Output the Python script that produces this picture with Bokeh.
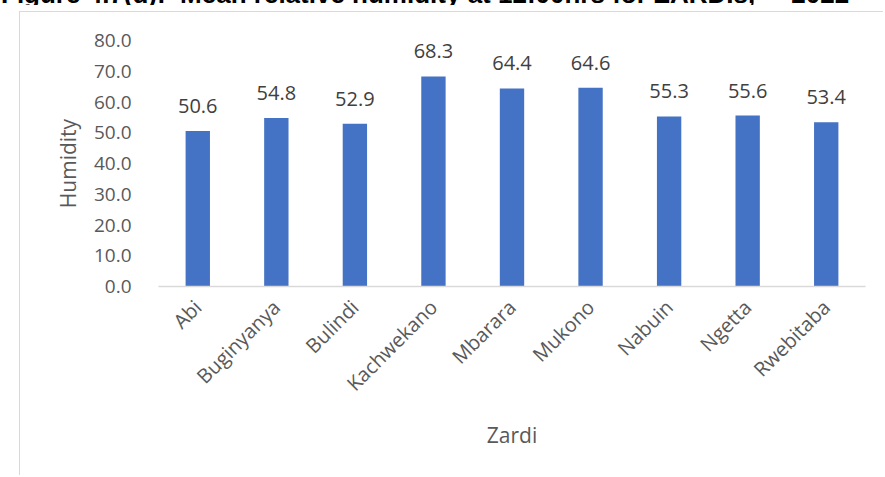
from bokeh.plotting import figure
from bokeh.layouts import column
from bokeh.models import (ColumnDataSource, FactorRange, Range1d, FixedTicker,
                          PrintfTickFormatter, LabelSet, Div)
from bokeh.core.properties import value
from bokeh.embed import file_html
from bokeh.resources import INLINE

categories = ["Abi", "Buginyanya", "Bulindi", "Kachwekano", "Mbarara", "Mukono", "Nabuin", "Ngetta", "Rwebitaba"]
humidity = [50.6, 54.8, 52.9, 68.3, 64.4, 64.6, 55.3, 55.6, 53.4]
y_ticks = [0, 10, 20, 30, 40, 50, 60, 70, 80]
title_text = "Figure 4.7(d):&nbsp; Mean relative humidity at 12:00hrs for ZARDIs,&nbsp;&nbsp;&nbsp;&nbsp; 2022"

FONT = "Open Sans"
W, H = 864, 464
# frame edges in canvas px (canvas starts at page x=20, y=12)
FL, FR, FT, FB = 138, 845, 28, 274

src = ColumnDataSource(dict(cat=categories, val=humidity, lab=[f"{v:.1f}" for v in humidity]))

p = figure(x_range=FactorRange(factors=categories, range_padding=0), y_range=Range1d(0, 80),
           width=W, height=H, output_backend="svg", toolbar_location=None,
           min_border_left=FL, min_border_right=W - FR, min_border_top=FT,
           min_border_bottom=H - FB)
p.margin = (6, 0, 0, 19)
p.styles = {"border-top": "1px solid #D9D9D9", "border-left": "1px solid #D9D9D9"}
p.outline_line_color = None
p.xgrid.grid_line_color = None
p.ygrid.grid_line_color = None
p.background_fill_color = "white"
p.border_fill_color = "white"

p.vbar(x="cat", top="val", width=0.31, source=src, fill_color="#4472C4", line_color=None)

labels = LabelSet(x="cat", y="val", text="lab", source=src, text_align="center",
                  text_baseline="alphabetic", y_offset=18, text_font=value(FONT),
                  text_font_size=value("20px"), text_color="#404040")
p.add_layout(labels)

ya = p.yaxis[0]
ya.ticker = FixedTicker(ticks=y_ticks)
ya.formatter = PrintfTickFormatter(format="%.1f")
ya.axis_line_color = None
ya.major_tick_line_color = None
ya.minor_tick_line_color = None
ya.major_label_text_font = FONT
ya.major_label_text_font_size = "19px"
ya.major_label_text_color = "#595959"
ya.major_label_standoff = 21
ya.axis_label = "Humidity"
ya.axis_label_text_font = FONT
ya.axis_label_text_font_size = "21px"
ya.axis_label_text_font_style = "normal"
ya.axis_label_text_color = "#595959"
ya.axis_label_standoff = 9

xa = p.xaxis[0]
xa.axis_line_color = "#D9D9D9"
xa.axis_line_width = 1.5
xa.major_tick_line_color = None
xa.minor_tick_line_color = None
xa.major_label_orientation = 0.785398
xa.major_label_text_font = FONT
xa.major_label_text_font_size = "20px"
xa.major_label_text_color = "#595959"
xa.major_label_standoff = 11
xa.axis_label = "Zardi"
xa.axis_label_text_font = FONT
xa.axis_label_text_font_size = "21px"
xa.axis_label_text_font_style = "normal"
xa.axis_label_text_color = "#595959"
xa.axis_label_standoff = 12

title_div = Div(
    text=('<div style="position:relative; top:-20px; left:1px; font-family:\'Liberation Sans\', Arial, sans-serif; '
          'font-weight:bold; font-size:26px; line-height:29px; white-space:nowrap; color:#000;">'
          + title_text + '</div>'),
    width=884, height=5, margin=(0, 0, 0, 0), styles={"overflow": "hidden"})

layout = column(title_div, p, spacing=0, margin=(0, 0, 0, 0))

open("out.html", "w").write(file_html(layout, INLINE))
